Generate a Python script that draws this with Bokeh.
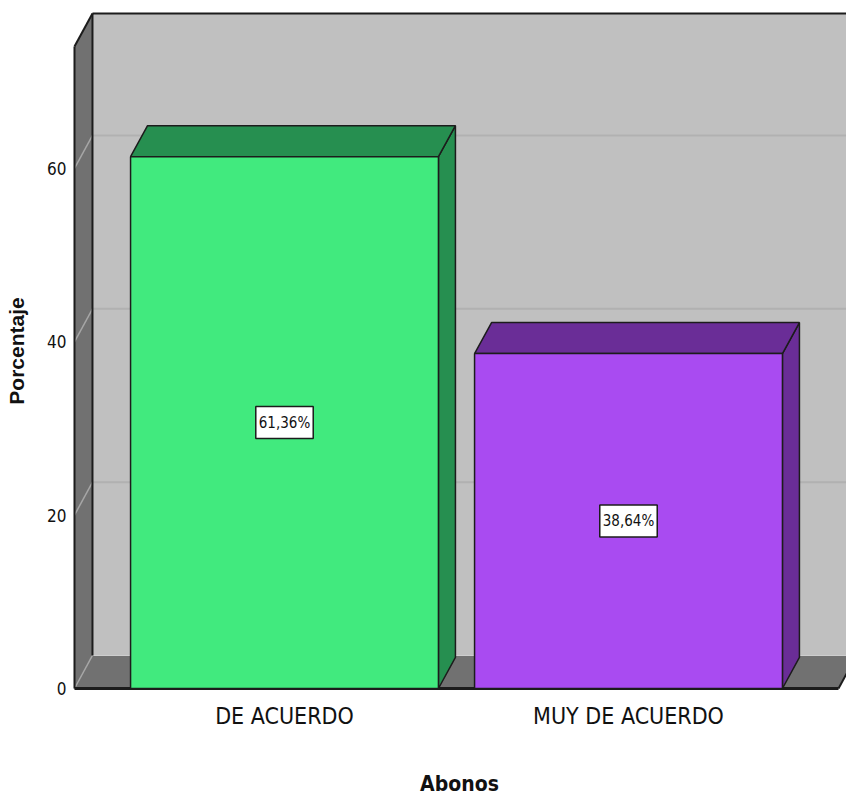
from bokeh.plotting import figure
from bokeh.models import Range1d, FixedTicker, ColumnDataSource
from bokeh.core.properties import value
from bokeh.embed import file_html
from bokeh.resources import INLINE

# ---- data ----
categories = ["DE ACUERDO", "MUY DE ACUERDO"]
percentages = [61.36, 38.64]
y_ticks = [0, 20, 40, 60]
front_colors = ["#41EA7E", "#A94BF1"]
shade_colors = ["#268F50", "#6A2D97"]

# ---- geometry (data units) ----
positions = [1, 2]
bar_w = 0.895
x0 = 0.3895            # front-left edge of the 3D box
x_fr = 2.6105          # front-right edge of the 3D box
x_start, x_end = 0.38372, 2.63372
y_start, y_end = -0.2308, 78.11
wall_top = 77.88
dxw, dyw = 0.0523, 3.81     # depth of walls
dxb, dyb = 0.0494, 3.58     # depth of bars

COND = "DejaVu Sans Condensed"
DARK = "#1c1c1c"

p = figure(width=846, height=798, output_backend="svg", toolbar_location=None,
           x_range=Range1d(x_start, x_end), y_range=Range1d(y_start, y_end),
           min_border_left=72, min_border_right=0, min_border_top=11, min_border_bottom=108)
p.outline_line_color = None
p.xgrid.visible = False
p.ygrid.visible = False
p.background_fill_color = "white"

# back wall
p.patch([x0 + dxw, x_fr + dxw, x_fr + dxw, x0 + dxw], [dyw, dyw, wall_top, wall_top],
        fill_color="#C0C0C0", line_color=None)
# left wall
p.patch([x0, x0 + dxw, x0 + dxw, x0], [0, dyw, wall_top, wall_top - dyw],
        fill_color="#717171", line_color=None)
# floor
p.patch([x0, x_fr, x_fr + dxw, x0 + dxw], [0, 0, dyw, dyw],
        fill_color="#717171", line_color=None)

# gridlines on back wall and left wall
for t in y_ticks:
    if t > 0:
        p.line([x0 + dxw, x_fr + dxw], [t + dyw, t + dyw], line_color="#B1B1B1", line_width=2)
    p.line([x0, x0 + dxw], [t, t + dyw], line_color="#A6A6A6", line_width=1.5)
p.line([x0 + dxw, x_fr + dxw], [dyw, dyw], line_color="#CFCFCF", line_width=1)

# wall outlines
p.line([x0 + dxw, x0 + dxw], [dyw, wall_top], line_color=DARK, line_width=2)
p.line([x0 + dxw, x_fr + dxw], [wall_top, wall_top], line_color=DARK, line_width=2)
p.line([x0, x0 + dxw], [wall_top - dyw, wall_top], line_color=DARK, line_width=2)
p.line([x0, x0], [0, wall_top - dyw], line_color=DARK, line_width=2)
p.line([x0, x_fr], [0, 0], line_color=DARK, line_width=3)
p.line([x_fr, x_fr + dxw], [0, dyw], line_color=DARK, line_width=2)

# bars
half = bar_w / 2
side_xs, side_ys, top_xs, top_ys = [], [], [], []
for c, v in zip(positions, percentages):
    side_xs.append([c + half, c + half + dxb, c + half + dxb, c + half])
    side_ys.append([0, dyb, v + dyb, v])
    top_xs.append([c - half, c + half, c + half + dxb, c - half + dxb])
    top_ys.append([v, v, v + dyb, v + dyb])

p.patches(side_xs, side_ys, fill_color=shade_colors, line_color=DARK, line_width=1.5)
p.patches(top_xs, top_ys, fill_color=shade_colors, line_color=DARK, line_width=1.5)
p.quad(left=[c - half for c in positions], right=[c + half for c in positions],
       bottom=0, top=percentages, fill_color=front_colors, line_color=DARK, line_width=1.5)

# value labels
lab_src = ColumnDataSource(dict(
    x=positions, y=[v / 2 for v in percentages],
    text=[f"{v:.2f}%".replace(".", ",") for v in percentages]))
p.text(x="x", y="y", text="text", source=lab_src, text_align="center", text_baseline="middle",
       text_font=value(COND), text_font_size="15px", text_color="#111111",
       background_fill_color="white", border_line_color=DARK, border_line_width=1.5,
       padding=[3, 7])

# axes
for ax in (p.xaxis[0], p.yaxis[0]):
    ax.axis_line_color = None
    ax.major_tick_line_color = None
    ax.minor_tick_line_color = None
    ax.major_tick_out = 0
    ax.major_tick_in = 0
    ax.minor_tick_out = 0
    ax.minor_tick_in = 0

p.yaxis.ticker = FixedTicker(ticks=y_ticks)
p.yaxis.major_label_standoff = 6
p.yaxis.major_label_text_font = COND
p.yaxis.major_label_text_font_size = "17px"
p.yaxis.major_label_text_color = "#111111"
p.yaxis.axis_label = "Porcentaje"
p.yaxis.axis_label_text_font = "Liberation Sans"
p.yaxis.axis_label_text_font_style = "bold"
p.yaxis.axis_label_text_font_size = "21px"
p.yaxis.axis_label_text_color = "#111111"
p.yaxis.axis_label_standoff = 16

p.xaxis.ticker = FixedTicker(ticks=positions)
p.xaxis.major_label_overrides = {pos: cat for pos, cat in zip(positions, categories)}
p.xaxis.major_label_standoff = 12
p.xaxis.major_label_text_font = COND
p.xaxis.major_label_text_font_size = "23px"
p.xaxis.major_label_text_color = "#111111"
p.xaxis.axis_label = "Abonos"
p.xaxis.axis_label_text_font = COND
p.xaxis.axis_label_text_font_style = "bold"
p.xaxis.axis_label_text_font_size = "21px"
p.xaxis.axis_label_text_color = "#111111"
p.xaxis.axis_label_standoff = 40

open("out.html", "w").write(file_html(p, INLINE))
